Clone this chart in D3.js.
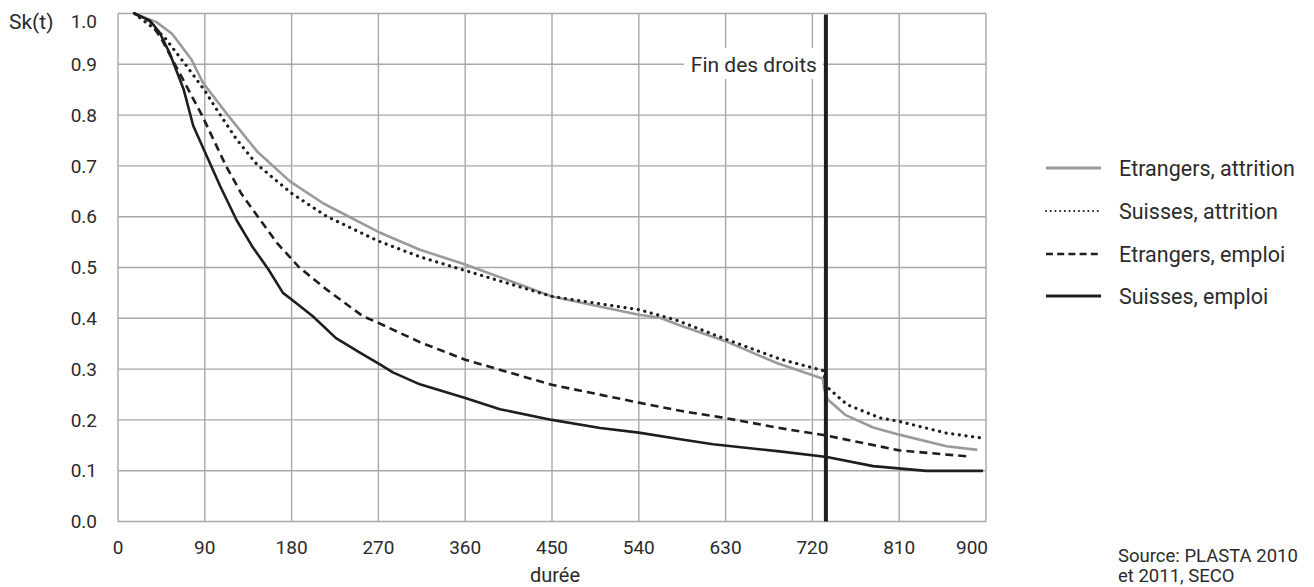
<!DOCTYPE html>
<html><head><meta charset="utf-8">
<script src="https://cdn.jsdelivr.net/npm/d3@7"></script>
<style>
html,body{margin:0;padding:0;background:#fff;}
text{font-family:Roboto,"DejaVu Sans",sans-serif;fill:#2b2b2b;}
</style></head>
<body>
<svg id="chart" width="1314" height="587"></svg>
<script>
// ---- data ----
const xTicks = [0, 90, 180, 270, 360, 450, 540, 630, 720, 810, 900];
const yTicks = [0.0, 0.1, 0.2, 0.3, 0.4, 0.5, 0.6, 0.7, 0.8, 0.9, 1.0];

const etrAttrDays = [17, 40, 56, 76, 88, 113, 144, 178, 213, 270, 313, 360, 450, 540, 562, 583, 630, 683, 731, 732, 736, 754, 783, 810, 859, 891];
const etrAttrVals = [1.0, 0.983, 0.96, 0.91, 0.864, 0.802, 0.729, 0.670, 0.626, 0.570, 0.535, 0.506, 0.443, 0.407, 0.401, 0.386, 0.355, 0.312, 0.281, 0.262, 0.240, 0.21, 0.185, 0.171, 0.148, 0.141];

const suiAttrDays = [17, 47, 71, 90, 102, 123, 144, 180, 216, 270, 313, 360, 450, 540, 578, 630, 686, 731, 735, 756, 790, 810, 859, 897];
const suiAttrVals = [1.0, 0.956, 0.897, 0.848, 0.812, 0.752, 0.703, 0.646, 0.601, 0.552, 0.521, 0.494, 0.443, 0.417, 0.397, 0.359, 0.32, 0.297, 0.265, 0.23, 0.204, 0.197, 0.174, 0.164];

const etrEmpDays = [17, 33, 45, 59, 73, 87, 100, 112, 128, 145, 165, 188, 216, 254, 270, 313, 360, 450, 540, 583, 630, 686, 735, 810, 882];
const etrEmpVals = [1.0, 0.985, 0.95, 0.9, 0.85, 0.8, 0.748, 0.7, 0.645, 0.6, 0.548, 0.5, 0.457, 0.404, 0.391, 0.353, 0.3185, 0.269, 0.234, 0.218, 0.2035, 0.184, 0.169, 0.14, 0.128];

const suiEmpDays = [17, 33, 43, 54, 68, 78, 90, 106, 123, 139, 156, 171, 180, 202, 226, 253, 272, 285, 313, 360, 396, 450, 500, 540, 583, 617, 686, 735, 783, 838, 897];
const suiEmpVals = [1.0, 0.986, 0.963, 0.92, 0.851, 0.779, 0.728, 0.66, 0.593, 0.542, 0.496, 0.45, 0.437, 0.404, 0.361, 0.330, 0.309, 0.2935, 0.27, 0.243, 0.221, 0.2, 0.184, 0.175, 0.162, 0.152, 0.138, 0.127, 0.109, 0.0996, 0.0996];

const seriesNames = ["Etrangers, attrition", "Suisses, attrition", "Etrangers, emploi", "Suisses, emploi"];
const endOfRightsDay = 734;
const endOfRightsLabel = "Fin des droits";
const sourceLines = ["Source: PLASTA 2010", "et 2011, SECO"];

// ---- styles ----
const styles = [
  {stroke:"#9a9a9a", width:2.6, dash:null, cap:"butt", legendDash:null, legendWidth:3},
  {stroke:"#1e1e1e", width:3.2, dash:"0.1 6.6", cap:"round", legendDash:"0.1 4.6", legendWidth:2},
  {stroke:"#1e1e1e", width:2.6, dash:"8 5", cap:"butt", legendDash:"7 4.2", legendWidth:2.6},
  {stroke:"#1e1e1e", width:2.6, dash:null, cap:"butt", legendDash:null, legendWidth:2.8}
];
const seriesData = [
  etrAttrDays.map((d,i)=>[d, etrAttrVals[i]]),
  suiAttrDays.map((d,i)=>[d, suiAttrVals[i]]),
  etrEmpDays.map((d,i)=>[d, etrEmpVals[i]]),
  suiEmpDays.map((d,i)=>[d, suiEmpVals[i]])
];

const svg = d3.select("#chart");
const x = d3.scaleLinear().domain([0, 900]).range([118, 986]);
const y = d3.scaleLinear().domain([0, 1]).range([521.5, 13.5]);
const FS = 19;

// grid
const grid = svg.append("g");
grid.selectAll("line.v").data(xTicks).join("line")
  .attr("x1", d=>x(d)).attr("x2", d=>x(d)).attr("y1", y(0)).attr("y2", y(1))
  .attr("stroke", "#a8a8a8").attr("stroke-width", 1.4);
grid.selectAll("line.h").data(yTicks).join("line")
  .attr("y1", d=>y(d)).attr("y2", d=>y(d)).attr("x1", x(0)).attr("x2", x(900))
  .attr("stroke", "#a8a8a8").attr("stroke-width", 1.4);

// y tick labels
svg.append("g").selectAll("text").data(yTicks).join("text")
  .attr("x", 97).attr("y", d => d === 1 ? y(d) + 8 : y(d))
  .attr("dy", "0.35em").attr("text-anchor", "end").attr("font-size", FS)
  .text(d => d3.format(".1f")(d));
svg.append("text").attr("x", 9).attr("y", y(1) + 8).attr("dy", "0.35em")
  .attr("font-size", 21).text("Sk(t)");

// x tick labels
svg.append("g").selectAll("text").data(xTicks).join("text")
  .attr("x", d => d === 900 ? x(d) + 2 : x(d)).attr("y", 547).attr("dy", "0.35em")
  .attr("text-anchor", d => d === 900 ? "end" : "middle").attr("font-size", FS)
  .text(d => d);
svg.append("text").attr("x", 555).attr("y", 582)
  .attr("text-anchor", "middle").attr("font-size", 20).text("durée");

// lines
const line = d3.line().x(d=>x(d[0])).y(d=>y(d[1]));
seriesData.forEach((data, i) => {
  const s = styles[i];
  svg.append("path").datum(data).attr("d", line)
    .attr("fill", "none").attr("stroke", s.stroke).attr("stroke-width", s.width)
    .attr("stroke-dasharray", s.dash).attr("stroke-linecap", s.cap)
    .attr("stroke-linejoin", "round");
});

// end of rights marker
const lbl = svg.append("g");
lbl.append("rect").attr("x", 684).attr("y", 48).attr("width", x(endOfRightsDay) - 3 - 684).attr("height", 31).attr("fill", "#fff");
lbl.append("text").attr("x", x(endOfRightsDay) - 9).attr("y", y(0.9)).attr("dy", "0.35em")
  .attr("text-anchor", "end").attr("font-size", 21).text(endOfRightsLabel);
svg.append("line").attr("x1", x(endOfRightsDay)).attr("x2", x(endOfRightsDay))
  .attr("y1", y(1) + 1).attr("y2", y(0)).attr("stroke", "#1e1e1e").attr("stroke-width", 4);

// legend
const legY = [168, 211, 254, 296];
const leg = svg.append("g");
seriesNames.forEach((name, i) => {
  const s = styles[i];
  leg.append("line").attr("x1", 1046).attr("x2", 1101).attr("y1", legY[i]).attr("y2", legY[i])
    .attr("stroke", s.stroke).attr("stroke-width", s.legendWidth)
    .attr("stroke-dasharray", s.legendDash).attr("stroke-linecap", s.cap);
  leg.append("text").attr("x", 1119).attr("y", legY[i]).attr("dy", "0.35em")
    .attr("font-size", 21.5).text(name);
});

// source
svg.append("g").selectAll("text").data(sourceLines).join("text")
  .attr("x", 1118).attr("y", (d, i) => 562 + i * 20).attr("font-size", 18.5).text(d => d);
</script>
</body></html>
